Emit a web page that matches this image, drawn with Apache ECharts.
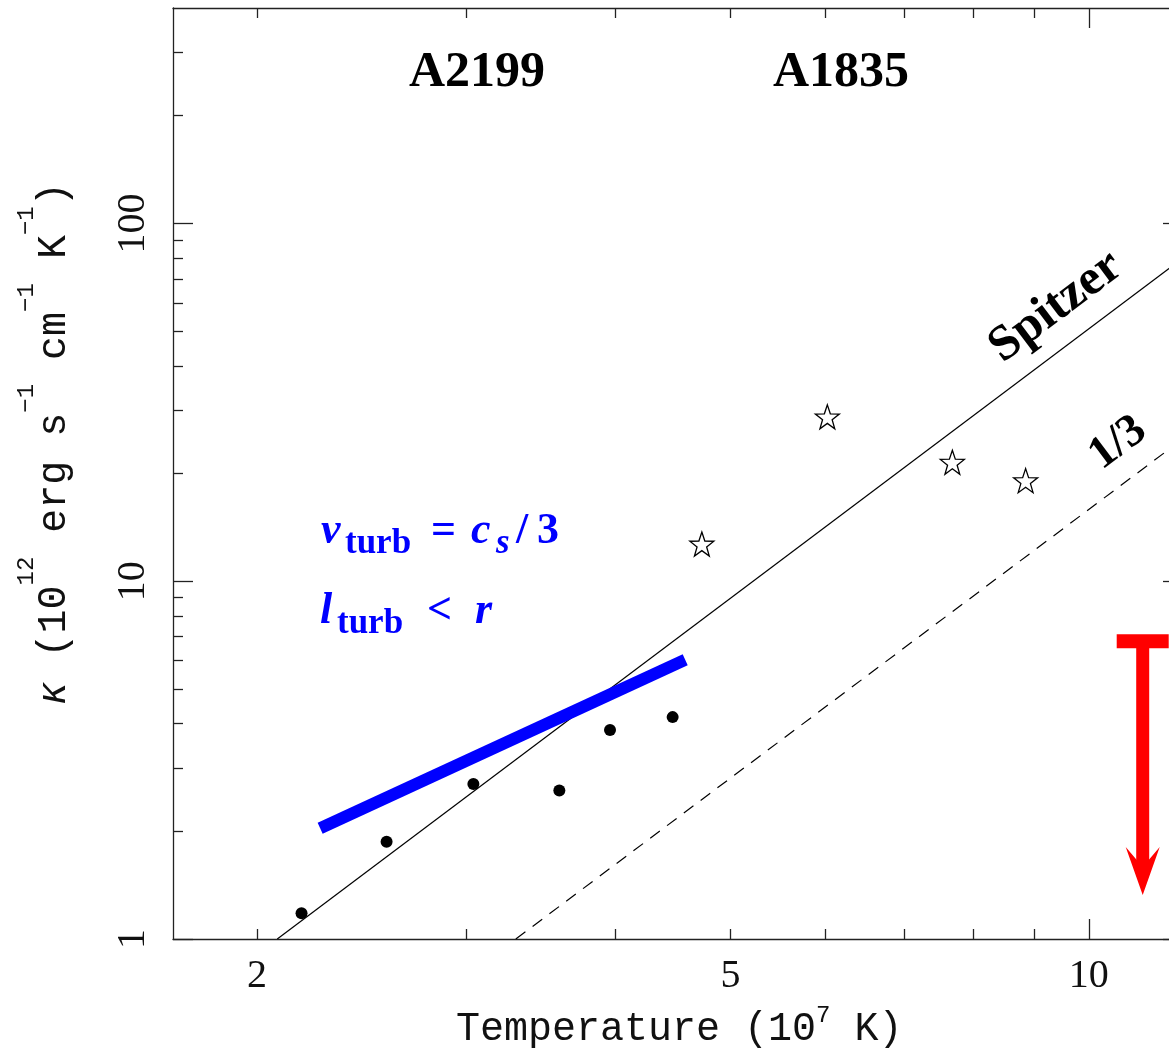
<!DOCTYPE html>
<html>
<head>
<meta charset="utf-8">
<title>Conductivity vs temperature</title>
<script src="https://cdn.jsdelivr.net/npm/echarts@6.0.0/dist/echarts.min.js"></script>
<style>
  html, body { margin: 0; padding: 0; background: #fff; overflow: hidden; }
  #chart { width: 1200px; height: 1052px; }
</style>
</head>
<body>
<div id="chart"></div>
<script>
// A2199 (filled dots): temperature in 10^7 K, kappa in 10^12 erg/s/cm/K
const a2199Temp = [2.18, 2.57, 3.04, 3.59, 3.96, 4.47]
const a2199Kappa = [1.18, 1.87, 2.71, 2.60, 3.84, 4.17]

// A1835 (open stars)
const a1835Temp = [4.73, 6.03, 7.68, 8.85]
const a1835Kappa = [12.7, 28.8, 21.5, 19.1]

// Spitzer line and 1/3 Spitzer (dashed), end points
const spitzerTemp = [2.08, 12]
const spitzerKappa = [1, 80]
const thirdTemp = [3.3, 12]
const thirdKappa = [1, 25]

// turbulent conduction estimate (thick blue)
const turbTemp = [2.26, 4.58]
const turbKappa = [2.04, 6.03]

// upper limit (red arrow)
const limitTemp = [11.1, 11.1]
const limitKappa = [6.8, 1.55]

// ticks and labels
const xMinorTicks = [2, 3, 4, 5, 6, 7, 8, 9]
const xMajorTicks = [10]
const xLabels = [2, 5, 10]
const yMinorTicks = [2, 3, 4, 5, 6, 7, 8, 9, 20, 30, 40, 50, 60, 70, 80, 90, 200, 300]
const yMajorTicks = [1, 10, 100]
const yLabels = [1, 10, 100]

const xMin = 1.7
const xMax = 12
const yMin = 1
const yMax = 400

const SERIF = '"Liberation Serif", "Times New Roman", serif'
const MONO = '"Liberation Mono", "Courier New", monospace'
const frameColor = '#222'
const starPath = 'path://M100,0L123.5,67.6L195.1,69.1L138,112.4L158.8,180.9L100,140L41.2,180.9L62,112.4L4.9,69.1L76.5,67.6Z'
const headPath = 'path://M17,0L34,48L17,28L0,48Z'

function font(size, family, weight, style) {
  return [style || 'normal', weight || 'normal', size + 'px', family].join(' ')
}

function zip(xs, ys) {
  return xs.map((x, i) => [x, ys[i]])
}

function makeAxis(dim, position, ticks, tickLen, showLine, labels) {
  const isX = dim === 'x'
  return {
    type: 'log',
    logBase: 10,
    position: position,
    min: isX ? xMin : yMin,
    max: isX ? xMax : yMax,
    axisLine: { show: showLine, onZero: false, lineStyle: { color: frameColor, width: 1.3 } },
    axisTick: {
      show: true,
      inside: true,
      length: tickLen,
      customValues: ticks,
      lineStyle: { color: frameColor, width: 1.3 }
    },
    axisLabel: labels ? {
      show: true,
      customValues: labels,
      margin: isX ? 17 : 20,
      rotate: isX ? 0 : 90,
      color: '#111',
      fontFamily: SERIF,
      fontSize: 40,
      formatter: function(v) { return String(Math.round(v)) }
    } : { show: false },
    splitLine: { show: false },
    minorTick: { show: false },
    minorSplitLine: { show: false }
  }
}

function text(x, y, str, fnt, color, extra) {
  const el = {
    type: 'text',
    x: x,
    y: y,
    z: 100,
    style: {
      text: str,
      font: fnt,
      fill: color,
      align: 'left',
      verticalAlign: 'middle',
      textAlign: 'left',
      textVerticalAlign: 'middle'
    }
  }
  if (extra) {
    if (extra.rotation) el.rotation = extra.rotation
    if (extra.align) {
      el.style.align = extra.align
      el.style.textAlign = extra.align
    }
  }
  return el
}

// axis titles in a monospaced serif: 0.6 em per character
const titleSize = 40
const supSize = 24
const charW = titleSize * 0.6
const supW = supSize * 0.6

function xTitle() {
  const parts = [['Temperature (10', false], ['7', true], [' K)', false]]
  let x = 456
  return parts.map(function(p) {
    const el = p[1]
      ? text(x, 1015.6, p[0], font(supSize, MONO), '#111')
      : text(x, 1029.3, p[0], font(titleSize, MONO), '#111')
    x += p[0].length * (p[1] ? supW : charW)
    return el
  })
}

function yTitle() {
  const parts = [
    ['κ', false, true], [' (10', false], ['12', true], [' erg s', false], ['−1', true],
    [' cm', false], ['−1', true], [' K', false], ['−1', true], [')', false]
  ]
  let y = 705.5
  return parts.map(function(p) {
    const fnt = p[1] ? font(supSize, MONO) : font(titleSize, MONO, 'normal', p[2] ? 'italic' : 'normal')
    const el = text(p[1] ? 26.6 : 54.3, y, p[0], fnt, '#111', { rotation: Math.PI / 2 })
    y -= p[0].length * (p[1] ? supW : charW)
    return el
  })
}

const angle = 36.9 * Math.PI / 180
const blue = '#0000ff'

const chart = echarts.init(document.getElementById('chart'), null, { renderer: 'canvas' })

chart.setOption({
  animation: false,
  backgroundColor: '#fff',
  grid: { left: 173, top: 8, width: 1010, height: 931, containLabel: false, outerBoundsMode: 'none' },
  xAxis: [
    makeAxis('x', 'bottom', xMinorTicks, 10, true, xLabels),
    makeAxis('x', 'bottom', xMajorTicks, 20, false, null),
    makeAxis('x', 'top', xMinorTicks, 10, true, null),
    makeAxis('x', 'top', xMajorTicks, 20, false, null)
  ],
  yAxis: [
    makeAxis('y', 'left', yMinorTicks, 10, true, yLabels),
    makeAxis('y', 'left', yMajorTicks, 20, false, null),
    makeAxis('y', 'right', yMinorTicks, 10, true, null),
    makeAxis('y', 'right', yMajorTicks, 20, false, null)
  ],
  series: [
    {
      name: 'Spitzer',
      type: 'line',
      data: zip(spitzerTemp, spitzerKappa),
      symbol: 'none',
      silent: true,
      lineStyle: { color: '#000', width: 1.2 },
      z: 2
    },
    {
      name: '1/3 Spitzer',
      type: 'line',
      data: zip(thirdTemp, thirdKappa),
      symbol: 'none',
      silent: true,
      lineStyle: { color: '#000', width: 1.2, type: [12, 9] },
      z: 2
    },
    {
      name: 'turbulence',
      type: 'line',
      data: zip(turbTemp, turbKappa),
      symbol: 'none',
      silent: true,
      lineStyle: { color: blue, width: 12, cap: 'butt' },
      z: 3
    },
    {
      name: 'upper limit',
      type: 'line',
      silent: true,
      showSymbol: true,
      data: [
        { value: [limitTemp[0], limitKappa[0]], symbol: 'rect', symbolSize: [52, 14] },
        { value: [limitTemp[1], limitKappa[1]], symbol: headPath, symbolSize: [34, 48], symbolRotate: 180 }
      ],
      itemStyle: { color: '#ff0000', borderWidth: 0, opacity: 1 },
      lineStyle: { color: '#ff0000', width: 13, cap: 'butt' },
      z: 3
    },
    {
      name: 'A2199',
      type: 'scatter',
      data: zip(a2199Temp, a2199Kappa),
      symbol: 'circle',
      symbolSize: 12,
      silent: true,
      itemStyle: { color: '#000', opacity: 1 },
      z: 4
    },
    {
      name: 'A1835',
      type: 'scatter',
      data: zip(a1835Temp, a1835Kappa),
      symbol: starPath,
      symbolSize: 24,
      silent: true,
      itemStyle: { color: '#fff', borderColor: '#000', borderWidth: 1.3, opacity: 1 },
      z: 4
    }
  ],
  graphic: [
    text(477, 73, 'A2199', font(50, SERIF, 'bold'), '#000', { align: 'center' }),
    text(841, 73, 'A1835', font(50, SERIF, 'bold'), '#000', { align: 'center' }),
    text(1056, 307, 'Spitzer', font(50, SERIF, 'bold'), '#000', { align: 'center', rotation: angle }),
    text(1118, 443, '1/3', font(46, SERIF, 'bold'), '#000', { align: 'center', rotation: angle }),

    // v_turb = c_s / 3
    text(321, 532, 'v', font(44, SERIF, 'bold', 'italic'), blue),
    text(345, 544, 'turb', font(35, SERIF, 'bold'), blue),
    text(431, 532, '=', font(44, SERIF, 'bold'), blue),
    text(471, 532, 'c', font(44, SERIF, 'bold', 'italic'), blue),
    text(496, 544, 's', font(35, SERIF, 'bold', 'italic'), blue),
    text(516, 532, '/', font(44, SERIF, 'bold'), blue),
    text(537, 532, '3', font(44, SERIF, 'bold'), blue),

    // l_turb < r
    text(320, 612, 'l', font(44, SERIF, 'bold', 'italic'), blue),
    text(337, 624, 'turb', font(35, SERIF, 'bold'), blue),
    text(427, 612, '<', font(44, SERIF, 'bold'), blue),
    text(475, 612, 'r', font(44, SERIF, 'bold', 'italic'), blue)
  ].concat(xTitle(), yTitle())
})
</script>
</body>
</html>
